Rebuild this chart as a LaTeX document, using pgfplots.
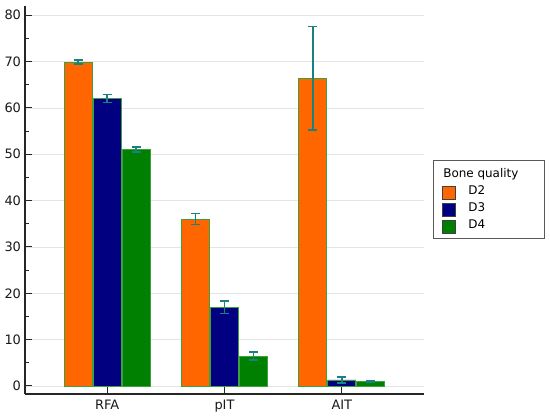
\documentclass[border=0pt]{standalone}
\usepackage{fontspec}
\setmainfont{DejaVu Sans}
\usepackage{pgfplots}
\pgfplotsset{compat=1.18}
\definecolor{cD2}{HTML}{FF6600}
\definecolor{cD3}{HTML}{000080}
\definecolor{cD4}{HTML}{008000}
\definecolor{cedge}{HTML}{3CA03C}
\definecolor{cerr}{HTML}{1A8080}
\definecolor{cgrid}{HTML}{E4E4E4}
\begin{document}
\begin{tikzpicture}[x=1bp,y=1bp]
\begin{axis}[
  at={(25bp,24bp)}, anchor=south west,
  scale only axis, width=399bp, height=388bp,
  xmin=-0.7, xmax=2.7, ymin=-1.73, ymax=82,
  ybar=1bp, bar width=28bp,
  axis lines*=left,
  axis line style={line width=1.3bp, color=black!85},
  xtick={0,1,2}, xticklabels={RFA,pIT,AIT},
  ytick={0,10,...,80}, minor y tick num=1,
  tick align=inside,
  major tick length=7bp, minor tick length=3.5bp,
  tick style={line width=1bp, color=black!85},
  ymajorgrids, grid style={cgrid, line width=0.8bp},
  /pgf/number format/assume math mode=true,
  tick label style={font=\fontsize{13}{15}\selectfont, color=black!90},
  yticklabel style={xshift=-0.5bp},
  xticklabel style={yshift=-2.5bp},
  legend style={at={(1.0226,0.603)}, anchor=north west,
    draw=black!65, line width=1bp, font=\fontsize{12}{14}\selectfont,
    inner xsep=8bp, inner ysep=5bp, row sep=0bp,
    nodes={inner xsep=2bp, inner ysep=2.5bp, text height=9bp, text depth=3bp},
    /tikz/every odd column/.append style={column sep=11bp}},
  legend cell align=left,
  legend image code/.code={\draw[#1, draw=black!75, line width=0.8bp] (0bp,-8bp) rectangle (13bp,5bp);},
  error bars/error bar style={cerr, line width=1.5bp},
  error bars/error mark options={rotate=90, mark size=4.5bp, line width=1.5bp, cerr},
]
\addlegendimage{empty legend}
\addlegendentry{\hspace{-25bp}Bone quality\rule{16bp}{0pt}}
\addplot[fill=cD2, draw=cedge, line width=0.8bp,
  error bars/.cd, y dir=both, y explicit] coordinates {
  (0,69.9) +- (0,0.45)
  (1,36.0) +- (0,1.2)
  (2,66.4) +- (0,11.15)
};
\addlegendentry{D2}
\addplot[fill=cD3, draw=cedge, line width=0.8bp,
  error bars/.cd, y dir=both, y explicit] coordinates {
  (0,62.0) +- (0,0.85)
  (1,17.0) +- (0,1.33)
  (2,1.3) +- (0,0.65)
};
\addlegendentry{D3}
\addplot[fill=cD4, draw=cedge, line width=0.8bp,
  error bars/.cd, y dir=both, y explicit] coordinates {
  (0,51.0) +- (0,0.54)
  (1,6.45) +- (0,0.86)
  (2,1.0) +- (0,0.1)
};
\addlegendentry{D4}
\end{axis}
\pgfresetboundingbox
\path[use as bounding box] (0bp,0bp) rectangle (550bp,418bp);
\end{tikzpicture}
\end{document}
